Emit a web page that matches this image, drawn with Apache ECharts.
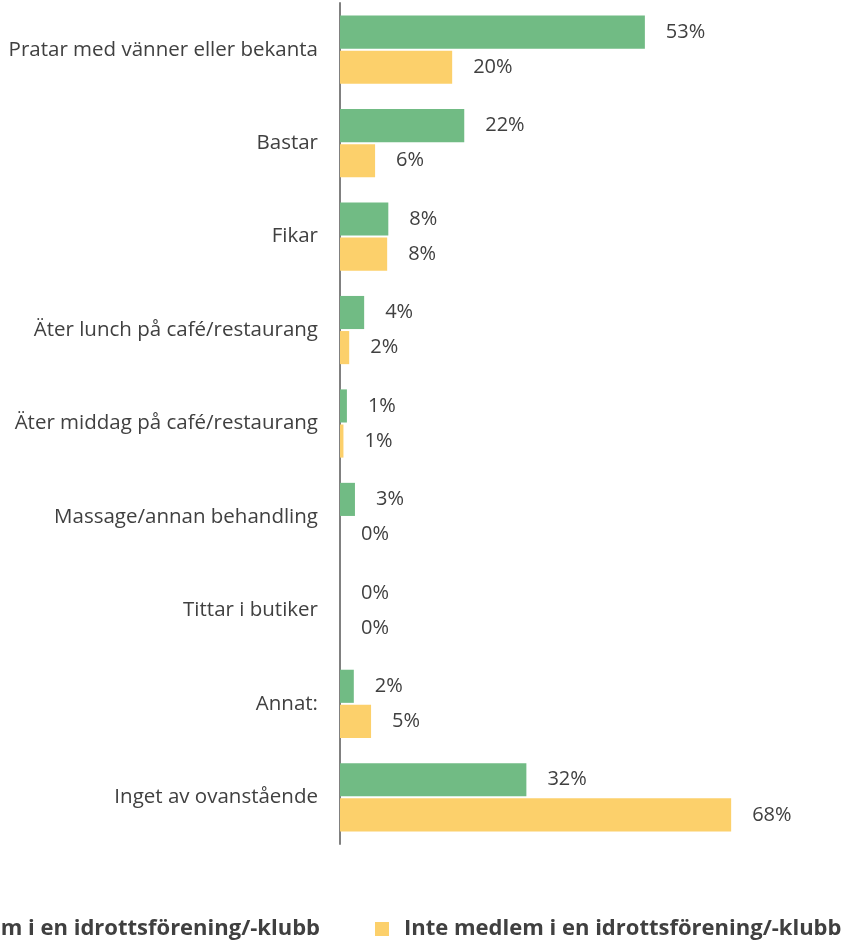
<!DOCTYPE html>
<html>
<head>
<meta charset="utf-8">
<script src="https://cdn.jsdelivr.net/npm/echarts@6/dist/echarts.min.js"></script>
<style>
html, body { margin: 0; padding: 0; background: #fff; }
#main { width: 857px; height: 943px; }
</style>
</head>
<body>
<div id="main"></div>
<script>
var categories = [
    'Pratar med vänner eller bekanta',
    'Bastar',
    'Fikar',
    'Äter lunch på café/restaurang',
    'Äter middag på café/restaurang',
    'Massage/annan behandling',
    'Tittar i butiker',
    'Annat:',
    'Inget av ovanstående'
];
var seriesNames = ['Medlem i en idrottsförening/-klubb', 'Inte medlem i en idrottsförening/-klubb'];
var members = [53, 21.6, 8.4, 4.2, 1.2, 2.6, 0, 2.4, 32.4];
var nonMembers = [19.5, 6.1, 8.2, 1.6, 0.6, 0, 0, 5.4, 68];

var myChart = echarts.init(document.getElementById('main'));
var font = 'Open Sans';

// legend starts off-screen: place the 2nd marker at x=375
var legendFont = 'bold 22px "Open Sans"';
var ctx = document.createElement('canvas').getContext('2d');
ctx.font = legendFont;
var firstW = ctx.measureText(seriesNames[0]).width;
var legendLeft = 370 - 55 - (firstW + 10) - 5 - 14;

function barLabel() {
    return {
        show: true,
        position: 'right',
        distance: 21,
        color: '#404040',
        fontFamily: font,
        fontSize: 20,
        formatter: function (p) { return Math.round(p.value) + '%'; }
    };
}

option = {
    animation: false,
    grid: { left: 340, right: 20, top: 3, height: 841, containLabel: false },
    legend: {
        left: legendLeft,
        top: 913,
        itemWidth: 14,
        itemHeight: 14,
        itemGap: 55,
        icon: 'rect',
        textStyle: { color: '#404040', fontFamily: font, fontSize: 22, fontWeight: 'bold', padding: [0, 0, 0, 10] },
        data: seriesNames
    },
    xAxis: {
        type: 'value',
        min: 0,
        max: 86.4,
        show: false
    },
    yAxis: {
        type: 'category',
        inverse: true,
        data: categories,
        axisLine: { show: true, lineStyle: { color: '#808080', width: 2 } },
        axisTick: { show: false },
        axisLabel: { color: '#404040', fontFamily: font, fontSize: 20.5, margin: 22 }
    },
    series: [
        {
            name: seriesNames[0], type: 'bar', data: members,
            barCategoryGap: '27%', barGap: '6%',
            itemStyle: { color: '#71BB84' },
            label: barLabel()
        },
        {
            name: seriesNames[1], type: 'bar', data: nonMembers,
            itemStyle: { color: '#FCD06B' },
            label: barLabel()
        }
    ]
};

myChart.setOption(option);
</script>
</body>
</html>
